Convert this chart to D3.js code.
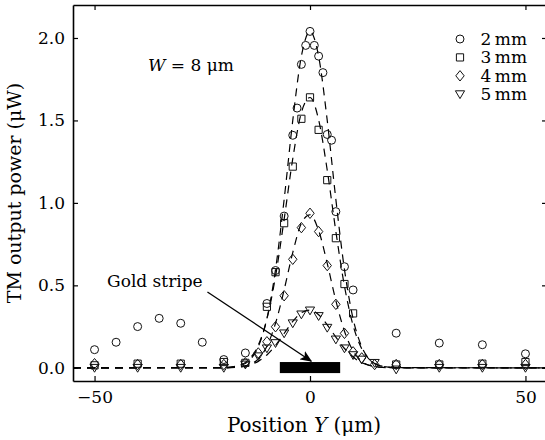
<!DOCTYPE html>
<html>
<head>
<meta charset="utf-8">
<script src="https://cdn.jsdelivr.net/npm/d3@7"></script>
<style>
  body { margin: 0; background: #fff; }
  svg { display: block; overflow: hidden; }
  text { font-family: "DejaVu Serif", serif; fill: #000; }
</style>
</head>
<body>
<div id="chart"></div>
<script>
// measured points, [position (um), power (uW)]
var pts2mm = [[-50,0.11],[-45,0.155],[-40,0.25],[-35,0.30],[-30,0.27],[-25,0.155],[-20,0.05],[-15,0.09],
  [-10,0.39],[-8,0.59],[-6,0.92],[-4,1.41],[-3,1.575],[-2,1.84],[-1,1.955],[0,2.04],[1,1.955],[2,1.89],
  [3,1.79],[4,1.415],[5,1.38],[6,0.947],[8,0.613],[10,0.472],[20,0.21],[30,0.15],[40,0.14],[50,0.085]];
var pts3mm = [[-50,0.015],[-40,0.025],[-30,0.025],[-20,0.035],[-15,0.03],[-10,0.37],[-8,0.58],[-6,0.877],
  [-4,1.22],[-2,1.51],[0,1.64],[2,1.443],[4,1.138],[6,0.786],[8,0.508],[10,0.33],[20,0.02],[30,0.02],
  [40,0.025],[50,0.035]];
var pts4mm = [[-50,0.025],[-40,0.02],[-30,0.02],[-20,0.02],[-15,0.03],[-12,0.09],[-10,0.158],[-8,0.249],
  [-6,0.437],[-4,0.658],[-2,0.85],[0,0.937],[2,0.826],[4,0.62],[6,0.385],[8,0.209],[10,0.097],[12,0.06],
  [15,0.02],[20,0.02],[30,0.02],[40,0.02],[50,0.02]];
var pts5mm = [[-50,0.0],[-40,0.0],[-30,0.0],[-20,0.0],[-15,0.02],[-12,0.07],[-10,0.118],[-8,0.15],
  [-6,0.209],[-4,0.27],[-2,0.324],[0,0.348],[2,0.314],[4,0.243],[6,0.172],[8,0.118],[10,0.077],[12,0.05],
  [15,0.03],[20,-0.01],[30,0.0],[40,0.0],[50,0.0]];

// dashed fit curves
var fitX = [-55,-20,-16,-14,-12,-10,-8,-6,-4,-2,0,2,4,6,8,10,12,14,16,20,55];
var fit2mm = [0,0.001,0.015,0.047,0.128,0.298,0.596,1.021,1.5,1.889,2.04,1.889,1.5,1.021,0.596,0.298,0.128,0.047,0.015,0.001,0];
var fit3mm = [0,0.0015,0.019,0.055,0.137,0.297,0.555,0.901,1.268,1.548,1.639,1.504,1.198,0.827,0.495,0.257,0.116,0.045,0.015,0.001,0];
var fit4mm = [0,0,0.0055,0.019,0.054,0.131,0.270,0.473,0.699,0.876,0.928,0.833,0.633,0.407,0.222,0.102,0.040,0.013,0.004,0,0];
var fit5mm = [0,0.0007,0.0069,0.0175,0.039,0.078,0.136,0.208,0.281,0.334,0.35,0.322,0.261,0.186,0.117,0.065,0.031,0.013,0.005,0,0];

var legendLabels = ["2\u2009mm", "3\u2009mm", "4\u2009mm", "5\u2009mm"];
var shapes = ["circle", "square", "diamond", "triangle"];
var xTicks = [-50, 0, 50];
var yTicks = [0, 0.5, 1.0, 1.5, 2.0];
var stripe = [-7, 7];

var margin = {top: 5, right: -2, bottom: 59, left: 73},
    width = 545 - margin.left - margin.right,
    height = 440 - margin.top - margin.bottom;

var x = d3.scaleLinear().domain([-55, 55]).range([0, width]);
var y = d3.scaleLinear().domain([-0.08, 2.2]).range([height, 0]);

var svg = d3.select("#chart").append("svg")
    .attr("width", 545)
    .attr("height", 440)
  .append("g")
    .attr("transform", "translate(" + margin.left + "," + margin.top + ")");

// marker path around (0,0)
function marker(shape) {
  if (shape == "circle") return "M4,0A4,4 0 1,1 -4,0A4,4 0 1,1 4,0Z";
  if (shape == "square") return "M-3.6,-3.6H3.6V3.6H-3.6Z";
  if (shape == "diamond") return "M0,-5.2L4.2,0L0,5.2L-4.2,0Z";
  return "M-4.6,-3.4H4.6L0,4.4Z";
}

// fit curves
var line = d3.line()
    .x(function(d) { return x(d[0]); })
    .y(function(d) { return y(d[1]); })
    .curve(d3.curveMonotoneX);

[fit2mm, fit3mm, fit4mm, fit5mm].forEach(function(f) {
  svg.append("path")
    .datum(fitX.map(function(v, i) { return [v, f[i]]; }))
    .attr("d", line)
    .attr("fill", "none")
    .attr("stroke", "#000")
    .attr("stroke-width", 1.2)
    .attr("stroke-dasharray", "8,6");
});

// points
[pts2mm, pts3mm, pts4mm, pts5mm].forEach(function(s, i) {
  svg.selectAll(".m" + i)
    .data(s)
   .enter().append("path")
    .attr("class", "m" + i)
    .attr("d", marker(shapes[i]))
    .attr("transform", function(d) { return "translate(" + x(d[0]) + "," + y(d[1]) + ")"; })
    .attr("fill", "none")
    .attr("stroke", "#111")
    .attr("stroke-width", 1);
});

// gold stripe bar
svg.append("rect")
    .attr("x", x(stripe[0]))
    .attr("width", x(stripe[1]) - x(stripe[0]))
    .attr("y", y(0.035))
    .attr("height", y(-0.032) - y(0.035))
    .attr("fill", "#000");

// arrow
svg.append("defs").append("marker")
    .attr("id", "arr")
    .attr("viewBox", "0 0 12 10")
    .attr("refX", 11).attr("refY", 5)
    .attr("markerWidth", 12).attr("markerHeight", 10)
    .attr("markerUnits", "userSpaceOnUse")
    .attr("orient", "auto")
  .append("path")
    .attr("d", "M0,0L12,5L0,10L3,5Z")
    .attr("fill", "#000");

svg.append("line")
    .attr("x1", x(-23.8)).attr("y1", y(0.46))
    .attr("x2", x(0.3)).attr("y2", y(0.04))
    .attr("stroke", "#000")
    .attr("stroke-width", 1.3)
    .attr("marker-end", "url(#arr)");

svg.append("text")
    .attr("x", x(-36))
    .attr("y", y(0.49))
    .attr("text-anchor", "middle")
    .style("font-size", "17px")
    .text("Gold stripe");

var wt = svg.append("text")
    .attr("x", x(-37.6))
    .attr("y", y(1.8))
    .style("font-size", "17px");
wt.append("tspan").style("font-style", "italic").text("W");
wt.append("tspan").text(" = 8 \u03bcm");

// legend
var leg = svg.append("g");
legendLabels.forEach(function(t, i) {
  var ly = 34 + i * 18.4;
  leg.append("path")
    .attr("d", marker(shapes[i]))
    .attr("transform", "translate(387," + ly + ")")
    .attr("fill", "none")
    .attr("stroke", "#111");
  leg.append("text")
    .attr("x", 454)
    .attr("y", ly + 6)
    .attr("text-anchor", "end")
    .style("font-size", "17px")
    .text(t);
});

// axes (ticks inward on all sides)
svg.append("g")
    .attr("transform", "translate(0," + height + ")")
    .call(d3.axisBottom(x).tickValues(xTicks).tickSizeInner(-5).tickSizeOuter(0).tickPadding(10));
svg.append("g")
    .call(d3.axisTop(x).tickValues(xTicks).tickSizeInner(-5).tickSizeOuter(0).tickFormat(""));
svg.append("g")
    .call(d3.axisLeft(y).tickValues(yTicks).tickSizeInner(-5).tickSizeOuter(0).tickPadding(8).tickFormat(d3.format(".1f")));
svg.append("g")
    .attr("transform", "translate(" + width + ",0)")
    .call(d3.axisRight(y).tickValues(yTicks).tickSizeInner(-5).tickSizeOuter(0).tickFormat(""));

svg.selectAll(".domain").attr("stroke-width", 1.6);
svg.selectAll(".tick line").attr("stroke-width", 1.2);
svg.selectAll(".tick text").style("font-size", "17px").style("font-family", "DejaVu Serif");

// axis labels
var xl = svg.append("text")
    .attr("x", 231)
    .attr("y", height + 51)
    .attr("text-anchor", "middle")
    .style("font-size", "20px");
xl.append("tspan").text("Position ");
xl.append("tspan").style("font-style", "italic").text("Y");
xl.append("tspan").text(" (\u03bcm)");

svg.append("text")
    .attr("transform", "translate(-52," + 188 + ") rotate(-90)")
    .attr("text-anchor", "middle")
    .style("font-size", "19px")
    .text("TM output power (\u03bcW)");
</script>
</body>
</html>
